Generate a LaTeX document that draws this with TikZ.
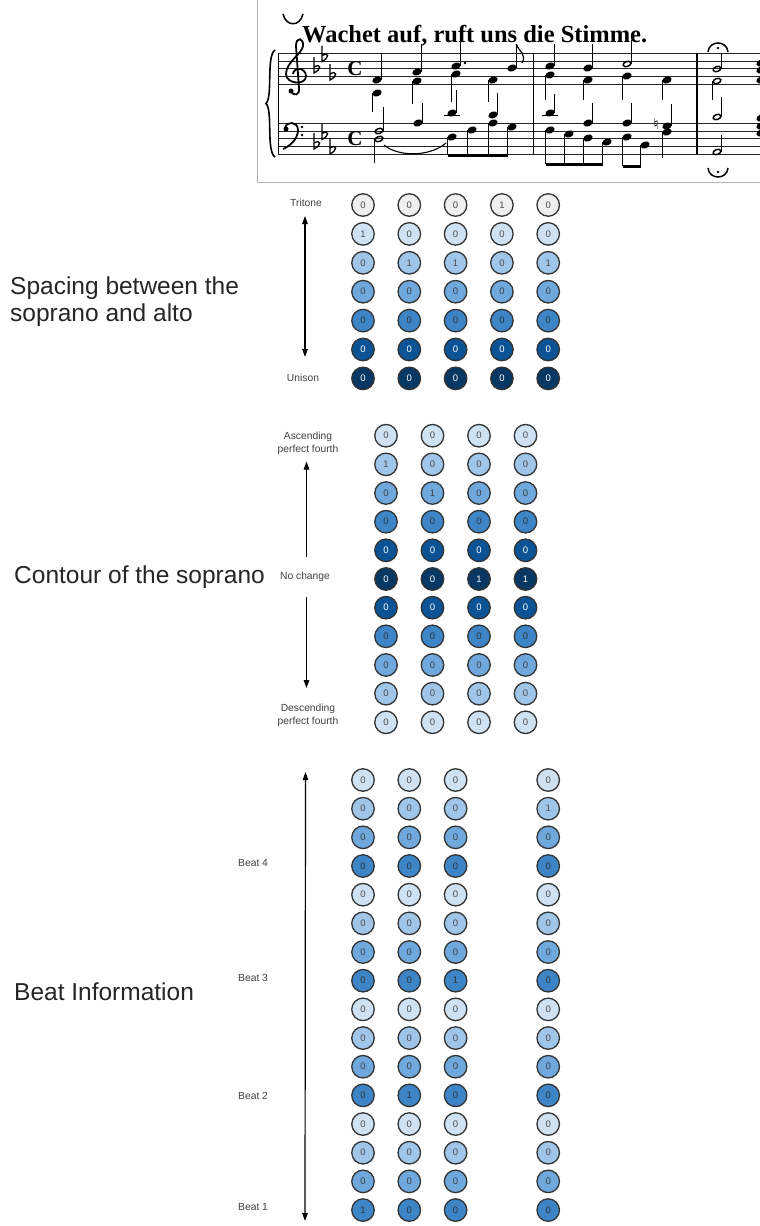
\documentclass[tikz,border=0pt]{standalone}
\usepackage{xcolor}
\usepackage{fontspec}
\setmainfont{Liberation Sans}
\newfontfamily\scorefont{Liberation Serif}
\newfontfamily\symbfont{DejaVu Sans}
\usetikzlibrary{arrows.meta, positioning, calc}

\definecolor{gray3}{HTML}{EFEFEF}
\definecolor{lblue3}{HTML}{CFE2F3}
\definecolor{lblue2}{HTML}{9FC5E8}
\definecolor{lblue1}{HTML}{6FA8DC}
\definecolor{dblue1}{HTML}{3D85C6}
\definecolor{dblue2}{HTML}{0B5394}
\definecolor{dblue3}{HTML}{073763}

\tikzset{
  cell/.style={circle, draw=black!80, line width=1.3pt, minimum size=22.5pt, inner sep=0pt,
    font=\fontsize{9.5}{10}\selectfont},
  lab/.style={font=\fontsize{10.3}{13.3}\selectfont, text=black!75, align=center, inner sep=0pt},
  big/.style={font=\fontsize{24.5}{27}\selectfont, text=black!85, align=left, anchor=west, inner sep=0pt},
}

\newcommand{\scnote}[2]{\fill[rotate around={20:(#1,#2)}] (#1,#2) ellipse [x radius=4.8pt, y radius=3.4pt];}
\newcommand{\schalf}[2]{\draw[line width=1.5pt, rotate around={20:(#1,#2)}] (#1,#2) ellipse [x radius=4pt, y radius=2.5pt];}
\newcommand{\stemup}[3]{\draw[line width=1pt] (#1+4.3,#2) -- (#1+4.3,#3);}
\newcommand{\stemdn}[3]{\draw[line width=1pt] (#1-4.3,#2) -- (#1-4.3,#3);}
\newcommand{\flatsign}[2]{\draw[line width=1.3pt] (#1,#2-12) -- (#1,#2+4)
  .. controls (#1+8,#2) and (#1+7,#2-6) .. (#1,#2-2);}

\begin{document}
\begin{tikzpicture}[x=1pt, y=-1pt, >={Triangle[length=8pt, width=5.5pt]}]
\useasboundingbox (0,0) rectangle (760,1226);
\fill[white] (0,0) rectangle (760,1226);

% the score
\begin{scope}
\clip (257,0) rectangle (760,183);
\draw[black!30, line width=0.8pt] (257.5,0) -- (257.5,182.5) -- (760,182.5);
\foreach \s in {53.3,123.3}
  \foreach \i in {0,...,4}
    \draw[black!85, line width=0.8pt] (278,\s+7.7*\i) -- (760,\s+7.7*\i);
\draw[line width=1pt] (278,53.3) -- (278,154.1);
\draw[line width=1pt] (533,53.3) -- (533,154.1);
\draw[line width=1.8pt] (697,53.3) -- (697,154.1);
\draw[line width=1.6pt] (275,50) .. controls (266,56) and (273,97) .. (266,103.5)
  .. controls (273,110) and (266,151) .. (275,157);
\node[font=\scorefont\bfseries\fontsize{24.5}{24.5}\selectfont, anchor=base west, inner sep=0pt]
  (title) at (302,42) {Wachet auf, ruft uns die Stimme.};
% clefs, keys, time
\fill (291,91) circle (2.5pt);
\draw[line width=1.8pt] (291,91) .. controls (294,97) and (300,95) .. (299,88) -- (296,46)
  .. controls (296,36) and (304,38) .. (303,46) .. controls (302,54) and (286,62) .. (286,74)
  .. controls (286,84) and (306,86) .. (306,76) .. controls (306,68) and (294,66) .. (293,74);
\fill (286,129) circle (2.5pt);
\draw[line width=1.8pt] (285,128) .. controls (286,121) and (298,121) .. (298,130)
  .. controls (298,139) and (290,146) .. (283,149);
\fill (302,127) circle (1.3pt) (302,135) circle (1.3pt);
\foreach \x/\y in {314/69, 322/57.5, 330/76, 314/145, 322/135.5, 330/150}
  {\flatsign{\x}{\y}}
\foreach \y in {69,139}
  \node[font=\scorefont\bfseries\fontsize{21}{21}\selectfont, inner sep=0pt] at (355,\y) {C};
% treble
\scnote{377}{80} \stemup{377}{80}{53}
\scnote{377}{93} \stemdn{377}{93}{112}
\scnote{417}{72} \stemup{417}{72}{44}
\scnote{417}{81} \stemdn{417}{81}{104}
\scnote{456}{66} \stemup{456}{66}{36}
\fill (465,63) circle (1.3pt);
\scnote{456}{74} \stemdn{456}{74}{102}
\scnote{493}{80} \stemdn{493}{80}{102}
\scnote{512}{68} \stemup{512}{68}{44}
\draw[line width=1.2pt] (516.3,44) .. controls (519,52) and (527,54) .. (522,63);
\scnote{550}{66} \stemup{550}{66}{44}
\scnote{550}{75} \stemdn{550}{75}{100}
\scnote{588}{68} \stemup{588}{68}{44}
\scnote{588}{80} \stemdn{588}{80}{100}
\schalf{627}{64} \stemup{627}{64}{40}
\scnote{627}{76} \stemdn{627}{76}{100}
\scnote{667}{80} \stemdn{667}{80}{100}
\schalf{717}{69} \stemup{717}{69}{54}
\schalf{717}{81} \stemdn{717}{81}{100}
\draw[line width=1.5pt] (708,52) .. controls (709,40) and (727,40) .. (728,52);
\fill (718,48) circle (1.4pt);
\draw[line width=1.5pt] (283,14) .. controls (286,27) and (300,27) .. (303,14);
% bass
\schalf{379}{131} \schalf{379}{139}
\stemup{379}{131}{107} \stemdn{379}{139}{163}
\draw[line width=1.1pt] (384,145) .. controls (398,157) and (430,157) .. (446,143);
\scnote{418}{123} \stemup{418}{123}{103}
\draw[line width=0.8pt] (444,115.6) -- (460,115.6);
\scnote{452}{113} \stemup{452}{113}{90}
\scnote{493}{115} \stemup{493}{115}{93}
\foreach \x/\y in {452/137, 472/130, 493/123, 512/127} {\scnote{\x}{\y} \stemdn{\x}{\y}{155}}
\draw[line width=3pt] (447.7,155) -- (507.7,155);
\draw[line width=0.8pt] (542,115.6) -- (558,115.6);
\scnote{550}{113} \stemup{550}{113}{94}
\foreach \x/\y in {550/130, 569/134, 588/138, 607/142} {\scnote{\x}{\y} \stemdn{\x}{\y}{164}}
\draw[line width=3pt] (545.7,164) -- (602.7,164);
\foreach \x/\y in {627/137, 645/145} {\scnote{\x}{\y} \stemdn{\x}{\y}{166}}
\draw[line width=3pt] (622.7,166) -- (640.7,166);
\scnote{588}{123} \stemup{588}{123}{103}
\scnote{627}{123} \stemup{627}{123}{103}
\scnote{667}{126} \scnote{667}{132}
\stemup{667}{126}{104} \stemdn{667}{132}{158}
\node[font=\symbfont\fontsize{15}{15}\selectfont, inner sep=0pt] at (656,124) {♮};
\schalf{717}{117} \stemup{717}{117}{97}
\schalf{717}{152} \stemup{717}{152}{135}
\draw[line width=1.5pt] (708,168) .. controls (709,180) and (727,180) .. (728,168);
\fill (718,172) circle (1.4pt);
\foreach \y in {63,70,80,118,126,133} {\scnote{761}{\y}}
\end{scope}

% spacing between soprano and alto
\node[big] (spacing) at (10,302) {Spacing between the\\soprano and alto};
\foreach \r/\f/\t/\v in {1/gray3/black!70/{0,0,0,1,0}, 2/lblue3/black!70/{1,0,0,0,0},
    3/lblue2/black!70/{0,1,1,0,1}, 4/lblue1/black!75/{0,0,0,0,0}, 5/dblue1/black!80/{0,0,0,0,0},
    6/dblue2/white/{0,0,0,0,0}, 7/dblue3/white/{0,0,0,0,0}}
  \foreach \d [count=\c] in \v
    \node[cell, fill=\f, text=\t] (sp-\r-\c) at ({363+46.3*(\c-1)}, {205+28.9*(\r-1)}) {\d};
\node[lab] (tritone) at (306,203) {Tritone};
\node[lab] (unison) at (303,378) {Unison};
\coordinate (sp-top) at (305,216);
\coordinate (sp-bot) at (305,357);
\draw[<->, line width=1.2pt] (sp-top) -- (sp-bot);

% contour of the soprano
\node[big] (contour) at (14,577) {Contour of the soprano};
\foreach \r/\f/\t/\v in {1/lblue3/black!70/{0,0,0,0}, 2/lblue2/black!70/{1,0,0,0},
    3/lblue1/black!75/{0,1,0,0}, 4/dblue1/black!80/{0,0,0,0}, 5/dblue2/white/{0,0,0,0},
    6/dblue3/white/{0,0,1,1}, 7/dblue2/white/{0,0,0,0}, 8/dblue1/black!80/{0,0,0,0},
    9/lblue1/black!75/{0,0,0,0}, 10/lblue2/black!70/{0,0,0,0}, 11/lblue3/black!70/{0,0,0,0}}
  \foreach \d [count=\c] in \v
    \node[cell, fill=\f, text=\t] (ct-\r-\c) at ({386+46.5*(\c-1)}, {435.7+28.66*(\r-1)}) {\d};
\node[lab] (asc) at (308,443.5) {Ascending\\perfect fourth};
\node[lab] (nochange) at (305,577) {No change};
\node[lab] (desc) at (308,715) {Descending\\perfect fourth};
\coordinate (ct-up0) at (306.5,557);
\coordinate (ct-up1) at (306.5,461.5);
\coordinate (ct-dn0) at (306.5,597);
\coordinate (ct-dn1) at (306.5,688);
\draw[->, line width=1.2pt] (ct-up0) -- (ct-up1);
\draw[->, line width=1.2pt] (ct-dn0) -- (ct-dn1);

% beat information
\node[big] (beatinfo) at (14,992) {Beat Information};
\foreach \r/\f/\t/\v in {1/lblue3/black!70/{0,0,0,0}, 2/lblue2/black!70/{0,0,0,1},
    3/lblue1/black!75/{0,0,0,0}, 4/dblue1/black!80/{0,0,0,0},
    5/lblue3/black!70/{0,0,0,0}, 6/lblue2/black!70/{0,0,0,0},
    7/lblue1/black!75/{0,0,0,0}, 8/dblue1/black!80/{0,0,1,0},
    9/lblue3/black!70/{0,0,0,0}, 10/lblue2/black!70/{0,0,0,0},
    11/lblue1/black!75/{0,0,0,0}, 12/dblue1/black!80/{0,1,0,0},
    13/lblue3/black!70/{0,0,0,0}, 14/lblue2/black!70/{0,0,0,0},
    15/lblue1/black!75/{0,0,0,0}, 16/dblue1/black!80/{1,0,0,0}}
  \foreach \d [count=\c] in \v {
    \pgfmathsetmacro\bx{\c<4 ? 363+46.3*(\c-1) : 548.2}
    \node[cell, fill=\f, text=\t] (bt-\r-\c) at (\bx, {780+28.67*(\r-1)}) {\d};
  }
\node[lab, anchor=west] (beat4) at (238,863) {Beat 4};
\node[lab, anchor=west] (beat3) at (238,978) {Beat 3};
\node[lab, anchor=west] (beat2) at (238,1096) {Beat 2};
\node[lab, anchor=west] (beat1) at (238,1207) {Beat 1};
\coordinate (bt-top) at (305.5,772);
\coordinate (bt-bot) at (305,1221);
\draw[<->, line width=1.2pt] (bt-top) -- (bt-bot);
\end{tikzpicture}
\end{document}
